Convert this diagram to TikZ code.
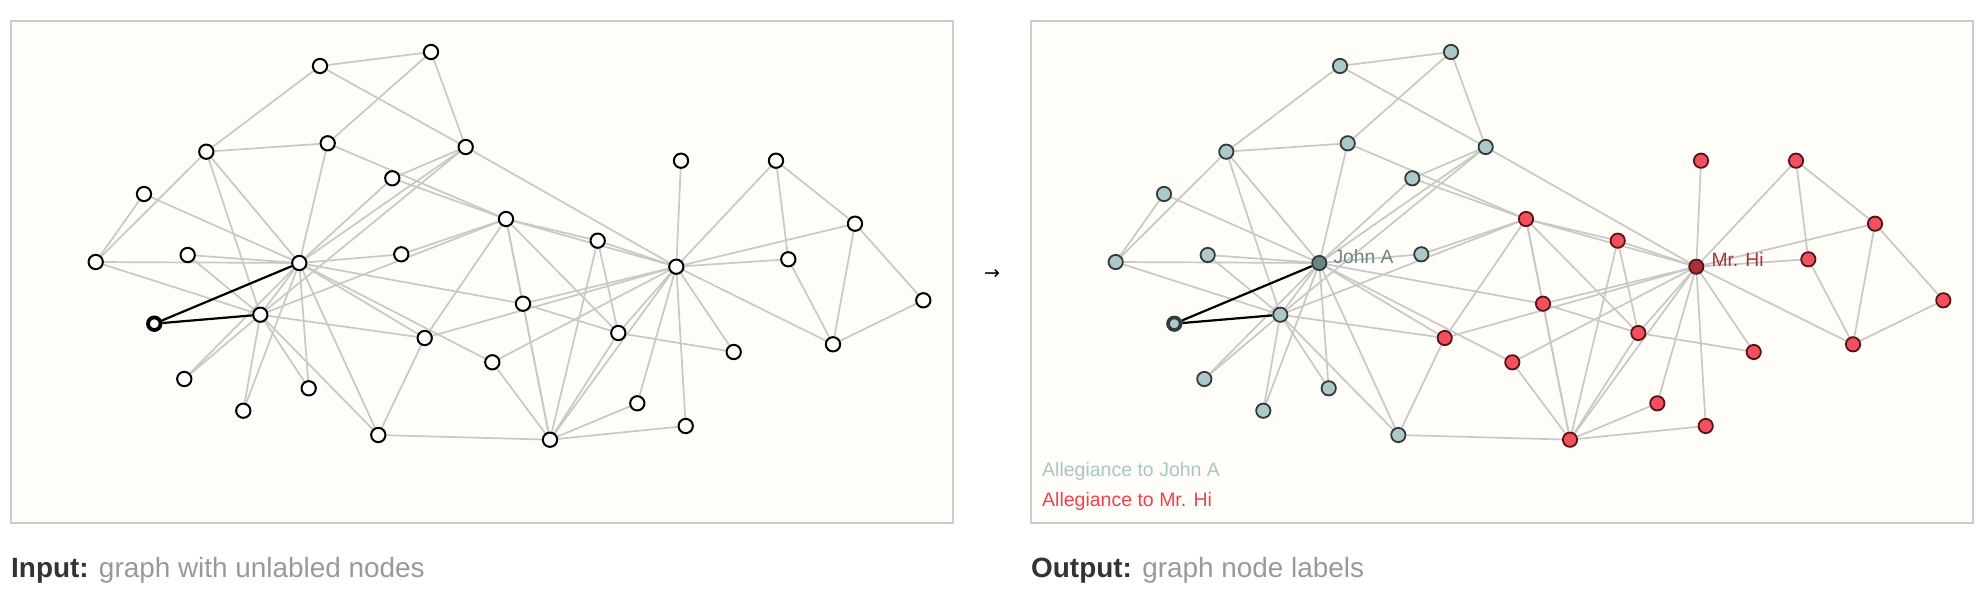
\documentclass[tikz,border=0pt]{standalone}
\usepackage{fontspec}
\setmainfont{Liberation Sans}
\newfontfamily\symfont{DejaVu Sans}
\definecolor{bgivory}{HTML}{FEFDF7}
\definecolor{framegray}{HTML}{CCCCCC}
\definecolor{edgegray}{HTML}{C8C8C8}
\definecolor{tealfill}{HTML}{AEC8CA}
\definecolor{tealdark}{HTML}{2E3C3D}
\definecolor{redfill}{HTML}{F2505C}
\definecolor{reddark}{HTML}{5A1219}
\definecolor{johnfill}{HTML}{6E8284}
\definecolor{hifill}{HTML}{A8303A}
\definecolor{johnlabel}{HTML}{6E8587}
\definecolor{hilabel}{HTML}{A8323C}
\definecolor{legteal}{HTML}{A9C6C8}
\definecolor{legred}{HTML}{F0414F}
\definecolor{capdark}{HTML}{333333}
\definecolor{capgray}{HTML}{999999}
\pgfdeclarelayer{bg}
\pgfdeclarelayer{edges}
\pgfsetlayers{bg,edges,main}
\tikzset{
  frame/.style={draw=framegray, line width=1.5pt, fill=bgivory},
  edge/.style={draw=edgegray, line width=1.7pt},
  hledge/.style={draw=black, line width=2.2pt},
  basenode/.style={circle, inner sep=0pt, minimum size=14.3pt, line width=2pt},
  wnode/.style={basenode, draw=black, fill=white},
  wsrc/.style={basenode, draw=black, fill=white, line width=3.8pt, minimum size=12.6pt},
  tnode/.style={basenode, draw=tealdark, fill=tealfill, line width=1.8pt},
  tsrc/.style={basenode, draw=tealdark, fill=tealfill, line width=3.6pt, minimum size=12.6pt},
  rnode/.style={basenode, draw=reddark, fill=redfill, line width=1.8pt},
  jnode/.style={basenode, draw=tealdark, fill=johnfill, line width=1.8pt},
  hnode/.style={basenode, draw=reddark, fill=hifill, line width=1.8pt},
  txt/.style={inner sep=0pt, anchor=base west},
}
\newcommand\graphnodes[1]{%
  \node[gh] (#1n1) at (676.3,266.7) {};
  \node[gr] (#1n2) at (550,439.7) {};
  \node[gr] (#1n3) at (506,219) {};
  \node[gr] (#1n4) at (618.3,333) {};
  \node[gr] (#1n5) at (788.3,259.3) {};
  \node[gr] (#1n6) at (855,223.7) {};
  \node[gr] (#1n7) at (833,344.3) {};
  \node[gr] (#1n8) at (597.7,240.7) {};
  \node[gr] (#1n9) at (424.7,338) {};
  \node[gt] (#1n10) at (401.3,254.3) {};
  \node[gr] (#1n11) at (776,160.7) {};
  \node[gr] (#1n12) at (681,160.7) {};
  \node[gr] (#1n13) at (733.7,352) {};
  \node[gr] (#1n14) at (523,303.7) {};
  \node[gs] (#1n15) at (154.3,323.7) {};
  \node[gt] (#1n16) at (187.7,255) {};
  \node[gr] (#1n17) at (923.3,300.3) {};
  \node[gr] (#1n18) at (637.3,403.3) {};
  \node[gt] (#1n19) at (184.3,379) {};
  \node[gr] (#1n20) at (492.3,362.3) {};
  \node[gt] (#1n21) at (243.3,410.7) {};
  \node[gr] (#1n22) at (685.7,426) {};
  \node[gt] (#1n23) at (308.7,388.3) {};
  \node[gt] (#1n24) at (206.3,151.7) {};
  \node[gt] (#1n25) at (431,52) {};
  \node[gt] (#1n26) at (320,66) {};
  \node[gt] (#1n27) at (144,194) {};
  \node[gt] (#1n28) at (327.7,143.3) {};
  \node[gt] (#1n29) at (392.3,178.3) {};
  \node[gt] (#1n30) at (95.7,262) {};
  \node[gt] (#1n31) at (378.3,435) {};
  \node[gt] (#1n32) at (465.7,147) {};
  \node[gt] (#1n33) at (260.3,314.7) {};
  \node[gj] (#1n34) at (299.3,263) {};
}
\newcommand\graphedges[1]{%
  \begin{pgfonlayer}{edges}
  \foreach \a/\b in {1/2,1/3,1/4,1/5,1/6,1/7,1/8,1/9,1/11,1/12,1/13,1/14,1/18,1/20,1/22,1/32,
    2/3,2/4,2/8,2/14,2/18,2/20,2/22,2/31,
    3/4,3/8,3/9,3/10,3/14,3/28,3/29,3/33,
    4/8,4/13,4/14,5/7,5/11,6/7,6/11,6/17,7/17,
    9/31,9/33,9/34,10/34,14/34,16/33,16/34,19/33,19/34,20/34,21/33,21/34,23/33,23/34,
    24/26,24/28,24/30,24/33,24/34,25/26,25/28,25/32,26/32,27/30,27/34,28/34,
    29/32,29/34,30/33,30/34,31/33,31/34,32/33,32/34,33/34}
    {\draw[edge] (#1n\a) -- (#1n\b);}
  \draw[hledge] (#1n33) -- (#1n15) -- (#1n34);
  \end{pgfonlayer}
}
\begin{document}
\begin{tikzpicture}[x=1pt,y=-1pt]
\useasboundingbox (0,0) rectangle (1988,602);
\begin{pgfonlayer}{bg}
  \draw[frame] (11,21) rectangle (953,523);
  \draw[frame] (1031,21) rectangle (1973,523);
\end{pgfonlayer}
\begin{scope}[gt/.style={wnode}, gr/.style={wnode}, gj/.style={wnode}, gh/.style={wnode}, gs/.style={wsrc}]
  \graphnodes{L}
  \graphedges{L}
\end{scope}
\begin{scope}[xshift=1020pt, gt/.style={tnode}, gr/.style={rnode}, gj/.style={jnode}, gh/.style={hnode}, gs/.style={tsrc}]
  \graphnodes{R}
  \graphedges{R}
\end{scope}
\node[txt, text=johnlabel, font=\fontsize{19.3}{20}\selectfont] (lblJ) at ([xshift=14pt]Rn34.center) {John A};
\node[txt, text=hilabel, font=\fontsize{19.3}{20}\selectfont] (lblH) at ([xshift=15pt]Rn1.center) {Mr. Hi};
\node[txt, text=legteal, font=\fontsize{19.5}{20}\selectfont] (leg1) at (1042,476) {Allegiance to John A};
\node[txt, text=legred, font=\fontsize{19.5}{20}\selectfont] (leg2) at (1042,506) {Allegiance to Mr. Hi};
\node[font=\symfont\fontsize{19}{19}\selectfont, inner sep=0pt] (arr) at (992,274) {→};
\node[txt, font=\fontsize{27.9}{30}\selectfont] (cap1) at (11,577.5) {\textcolor{capdark}{\textbf{Input:}} \textcolor{capgray}{graph with unlabled nodes}};
\node[txt, font=\fontsize{27.9}{30}\selectfont] (cap2) at (1031,577.5) {\textcolor{capdark}{\textbf{Output:}} \textcolor{capgray}{graph node labels}};
\end{tikzpicture}
\end{document}
